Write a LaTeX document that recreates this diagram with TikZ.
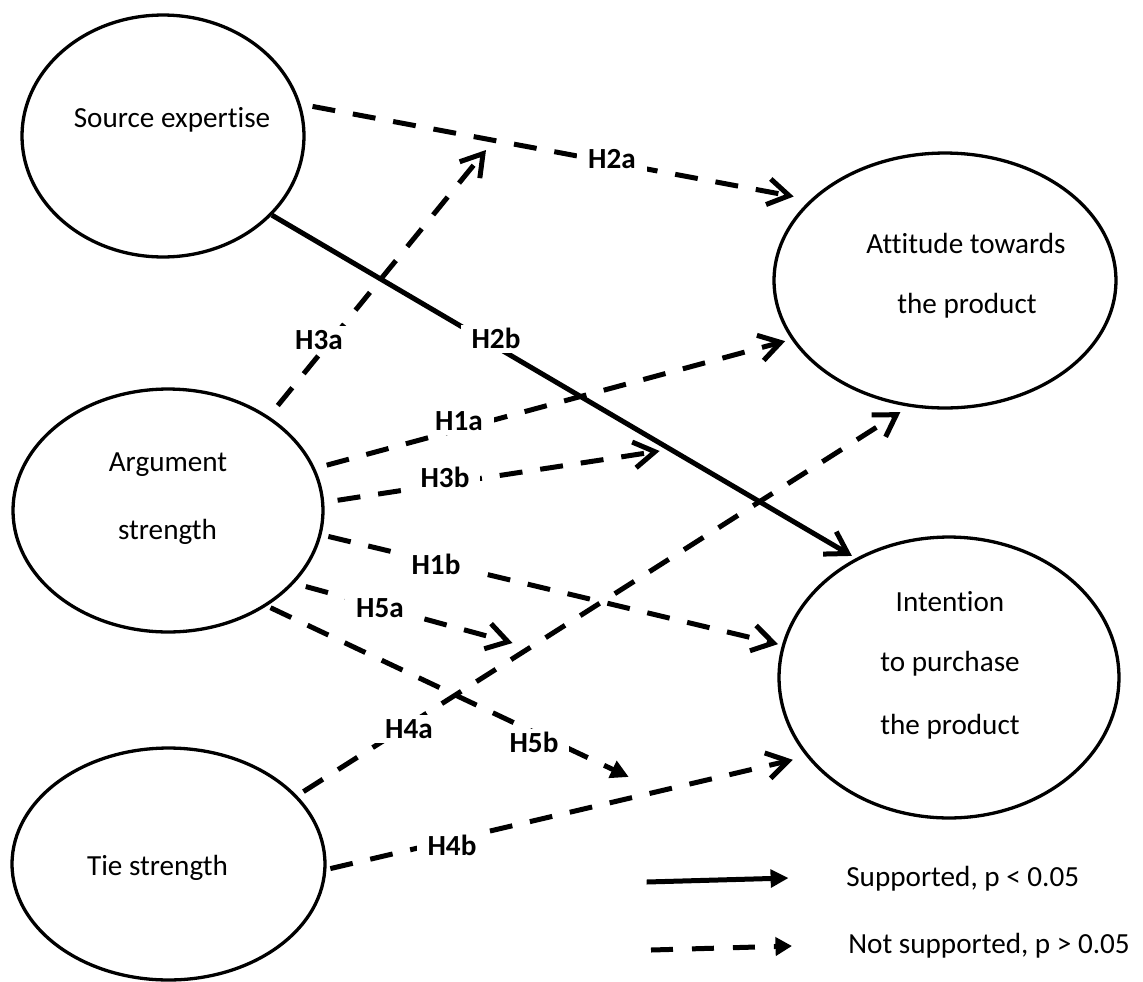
\documentclass[tikz,border=0pt]{standalone}
\usepackage{fontspec}
\setmainfont{Carlito}[Ligatures={NoCommon}]
\usetikzlibrary{arrows.meta,shapes.geometric}

\begin{document}
\begin{tikzpicture}[x=0.02cm,y=-0.02cm,
  construct/.style 2 args={ellipse, draw, line width=0.066cm, inner sep=0pt,
    minimum width=#1, minimum height=#2},
  caption/.style={inner sep=0pt, anchor=base, font=\fontsize{16.6}{19}\selectfont},
  hyp/.style={fill=white, inner xsep=0.22cm, inner ysep=0.1cm, text height=10.7pt,
    text depth=0pt, font=\fontsize{16.6}{19}\selectfont\bfseries},
  notsup/.style={line width=0.1cm, dash pattern=on 0.46cm off 0.36cm},
  supline/.style={line width=0.1cm},
  openhead/.style={-{Straight Barb[length=0.42cm,width=0.52cm]}},
  filledhead/.style={-{Triangle[length=0.36cm,width=0.36cm]}}
]
\useasboundingbox (0,0) rectangle (1143,981);

% constructs
\node[construct={5.64cm}{4.84cm}] (src) at (163,136) {};
\node[construct={6.84cm}{5.10cm}] (att) at (945,280.5) {};
\node[construct={6.2cm}{4.86cm}]  (arg) at (168,510.5) {};
\node[construct={6.8cm}{5.62cm}]  (int) at (949,677.5) {};
\node[construct={6.26cm}{4.64cm}] (tie) at (168.5,864) {};

\node[caption] (src-t)  at (172,127)   {Source expertise};
\node[caption] (att-t1) at (966,253)   {Attitude towards};
\node[caption] (att-t2) at (967,313)   {the product};
\node[caption] (arg-t1) at (168,471)   {Argument};
\node[caption] (arg-t2) at (167.5,539) {strength};
\node[caption] (int-t1) at (950,611)   {Intention};
\node[caption] (int-t2) at (950,671)   {to purchase};
\node[caption] (int-t3) at (950,734)   {the product};
\node[caption] (tie-t)  at (157.5,875) {Tie strength};

% free ends of the moderating paths
\coordinate (h3a-tip) at (486,150);
\coordinate (h3b-tip) at (659.6,451);
\coordinate (h5a-tip) at (512.5,643);
\coordinate (h5b-tip) at (628.8,777);

% hypothesised paths
\draw[notsup, openhead, shorten <=0.24cm, shorten >=0.34cm] (src.13.4) -- (att.149.1);
\draw[supline, openhead, shorten >=0.09cm] (src.-36.4) -- (int.128.8);
\draw[notsup, openhead, shorten <=0.28cm] (arg.43.2) -- (h3a-tip);
\draw[notsup, openhead, shorten <=0.24cm, shorten >=0.13cm] (arg.16.2) -- (att.201.3);
\draw[notsup, openhead, shorten <=0.27cm] (arg.3.9) -- (h3b-tip);
\draw[notsup, openhead, shorten <=0.14cm, shorten >=0.08cm] (arg.-9.1) -- (int.169.5);
\draw[notsup, openhead, shorten <=0.24cm] (arg.-30.7) -- (h5a-tip);
\draw[notsup, filledhead, shorten <=0.08cm] (arg.-44.3) -- (h5b-tip);
\draw[notsup, openhead, shorten <=0.15cm, shorten >=0.2cm] (tie.28.3) -- (att.254.2);
\draw[notsup, openhead, shorten <=0.08cm, shorten >=0.28cm] (tie.-2.1) -- (int.209.2);

% path labels
\node[hyp] (l-h2a) at (612,159) {H2a};
\node[hyp] (l-h3a) at (319,340) {H3a};
\node[hyp] (l-h2b) at (496,339) {H2b};
\node[hyp] (l-h1a) at (459,421) {H1a};
\node[hyp] (l-h3b) at (445,478) {H3b};
\node[hyp] (l-h1b) at (436,565) {H1b};
\node[hyp] (l-h5a) at (380,608) {H5a};
\node[hyp] (l-h4a) at (409,729) {H4a};
\node[hyp] (l-h5b) at (534,743) {H5b};
\node[hyp] (l-h4b) at (452,846) {H4b};

% legend
\coordinate (leg1-a) at (646.6,882);
\coordinate (leg1-b) at (788.6,878);
\coordinate (leg2-a) at (651,950);
\coordinate (leg2-b) at (792,946);
\draw[supline, -{Triangle[length=0.36cm,width=0.35cm]}] (leg1-a) -- (leg1-b);
\draw[line width=0.1cm, dash pattern=on 0.44cm off 0.38cm,
  -{Triangle[length=0.33cm,width=0.36cm]}] (leg2-a) -- (leg2-b);
\node[caption, anchor=base west] (leg1-t) at (846,886) {Supported, p < 0.05};
\node[caption, anchor=base west] (leg2-t) at (848,953) {Not supported, p > 0.05};
\end{tikzpicture}
\end{document}
